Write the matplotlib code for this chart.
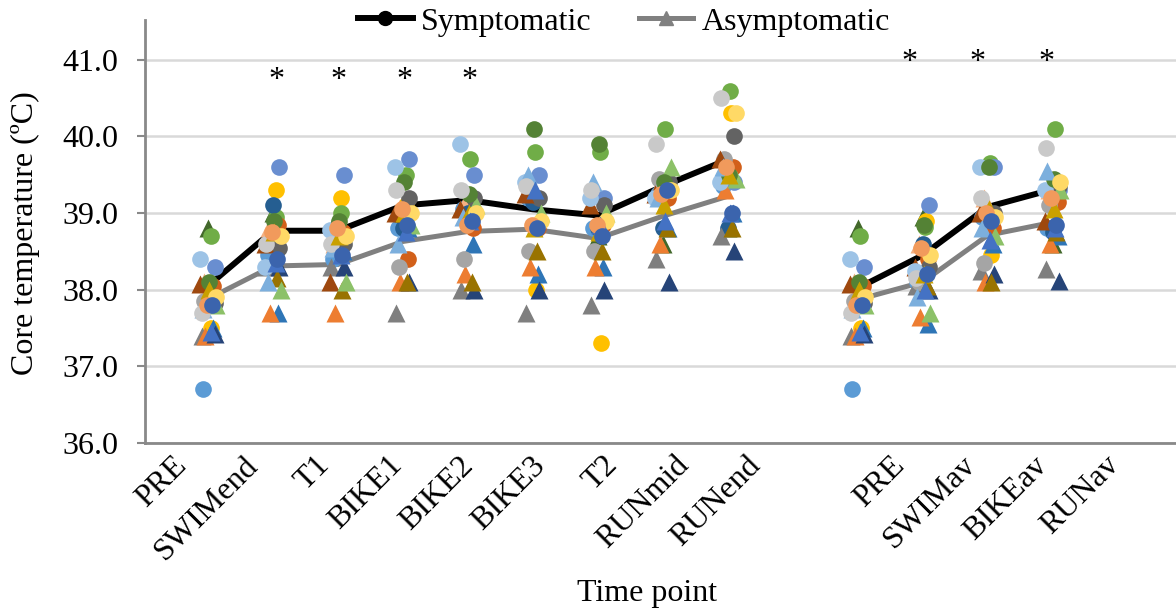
import numpy as np
import matplotlib.pyplot as plt
from matplotlib.lines import Line2D

plt.rcParams['font.family'] = ['Liberation Serif', 'DejaVu Serif']
plt.rcParams['font.size'] = 23

############################ Data ############################
tick_labels = ["PRE", "SWIMend", "T1", "BIKE1", "BIKE2", "BIKE3", "T2", "RUNmid", "RUNend",
               "PRE", "SWIMav", "BIKEav", "RUNav"]
x_pos = [0, 1, 2, 3, 4, 5, 6, 7, 8, 10, 11, 12, 13]

# group means
sym_mean = [38.05, 38.77, 38.77, 39.10, 39.17, 39.05, 38.97, 39.35, 39.70, 38.02, 38.45, 39.08, 39.31]
asym_mean = [37.88, 38.31, 38.33, 38.63, 38.76, 38.79, 38.67, 38.96, 39.22, 37.87, 38.10, 38.71, 38.88]

# individual symptomatic athletes (circles), one list per time point
sym_pre = [36.7, 37.5, 38.7, 37.8, 38.3, 38.05, 37.85, 37.83, 38.4, 38.1, 37.7, 37.9, 37.8, 37.8]
sym_swimend = [38.45, 39.3, 38.95, 39.1, 39.6, 38.85, 38.6, 38.55, 38.3, 38.9, 38.6, 38.7, 38.75, 38.4]
sym_t1 = [38.4, 39.2, 39.0, 38.85, 39.5, 38.75, 38.65, 38.6, 38.78, 38.9, 38.6, 38.7, 38.8, 38.45]
sym_bike1 = [38.8, 39.1, 39.5, 38.8, 39.7, 38.4, 38.3, 39.2, 39.6, 39.4, 39.3, 39.0, 39.05, 38.85]
sym_bike2 = [39.05, 38.95, 39.7, 39.0, 39.5, 38.8, 38.4, 39.2, 39.9, 39.25, 39.3, 39.0, 38.85, 38.9]
sym_bike3 = [39.2, 38.0, 39.8, 39.15, 39.5, 38.8, 38.5, 39.2, 39.4, 40.1, 39.35, 38.9, 38.85, 38.8]
sym_t2 = [38.8, 37.3, 39.8, 38.8, 39.2, 38.85, 38.5, 39.1, 39.2, 39.9, 39.3, 38.9, 38.85, 38.7]
sym_runmid = [39.25, 39.3, 40.1, 38.8, 39.3, 39.2, 39.45, 39.4, 39.2, 39.4, 39.9, 39.3, 39.25, 39.3]
sym_runend = [39.35, 40.3, 40.6, 38.8, 39.4, 39.6, 39.7, 40.0, 39.4, 39.5, 40.5, 40.3, 39.6, 39.0]
sym_swimav = [38.1, 38.9, 38.82, 38.6, 39.1, 38.4, 38.1, 38.3, 38.25, 38.85, 38.15, 38.45, 38.55, 38.2]
sym_bikeav = [38.95, 38.45, 39.65, 38.85, 39.6, 38.8, 38.35, 39.0, 39.6, 39.6, 39.2, 38.95, 39.0, 38.9]
sym_runav = [38.8, 39.2, 40.1, 38.75, 39.3, 39.15, 39.1, 39.35, 39.3, 39.45, 39.85, 39.4, 39.2, 38.85]

# individual asymptomatic athletes (triangles)
asym_pre = [38.8, 38.1, 37.5, 37.4, 37.4, 37.42, 37.95, 38.08, 37.8, 37.75, 38.0, 37.45]
asym_swimend = [39.0, 38.8, 37.7, 38.3, 37.7, 38.3, 38.15, 38.6, 38.0, 38.1, 38.75, 38.35]
asym_t1 = [38.75, 38.6, 38.5, 38.3, 37.7, 38.3, 38.0, 38.1, 38.1, 38.55, 38.7, 38.45]
asym_bike1 = [39.0, 39.05, 38.8, 37.7, 38.1, 38.1, 38.1, 39.0, 38.85, 38.6, 39.0, 38.75]
asym_bike2 = [39.2, 39.1, 38.6, 38.0, 38.2, 38.0, 38.1, 39.05, 39.1, 38.95, 39.0, 38.9]
asym_bike3 = [39.3, 39.45, 38.2, 37.7, 38.3, 38.0, 38.5, 39.25, 39.0, 39.5, 38.8, 39.3]
asym_t2 = [38.7, 39.3, 38.3, 37.8, 38.3, 38.0, 38.5, 39.1, 39.0, 39.4, 38.75, 38.85]
asym_runmid = [38.6, 39.35, 38.8, 38.4, 38.6, 38.1, 38.8, 39.25, 39.6, 39.2, 39.1, 38.9]
asym_runend = [38.8, 39.5, 39.0, 38.7, 39.3, 38.5, 38.8, 39.7, 39.45, 39.6, 39.5, 39.0]
asym_swimav = [38.95, 38.6, 37.55, 38.05, 37.65, 38.0, 38.05, 38.3, 37.7, 37.9, 38.2, 38.0]
asym_bikeav = [38.9, 39.2, 38.6, 38.25, 38.1, 38.2, 38.1, 39.0, 38.7, 38.8, 39.05, 38.65]
asym_runav = [38.6, 39.3, 38.7, 38.27, 38.6, 38.12, 38.75, 38.9, 39.3, 39.55, 39.05, 38.8]

sym_points = [sym_pre, sym_swimend, sym_t1, sym_bike1, sym_bike2, sym_bike3, sym_t2,
              sym_runmid, sym_runend, sym_pre, sym_swimav, sym_bikeav, sym_runav]
asym_points = [asym_pre, asym_swimend, asym_t1, asym_bike1, asym_bike2, asym_bike3, asym_t2,
               asym_runmid, asym_runend, asym_pre, asym_swimav, asym_bikeav, asym_runav]

# significance markers
star_x = [1.05, 2.0, 3.03, 4.03, 10.8, 11.85, 12.9]

############################ Styles ############################
circle_colors = ['#5B9BD5', '#FFC000', '#70AD47', '#255E91', '#698ED0', '#D2601A', '#A5A5A5',
                 '#636363', '#9DC3E6', '#548235', '#C9C9C9', '#FFD966', '#F19A5C', '#3B64AD']
tri_colors = ['#43682B', '#F4B183', '#2E75B6', '#7F7F7F', '#ED7D31', '#264478',
              '#997300', '#9E480E', '#8CC168', '#7CAFDD', '#C9A000', '#4472C4']
circle_off = [-0.08, 0.05, 0.04, 0.0, 0.1, 0.08, -0.06, 0.1, -0.12, 0.02, -0.1, 0.12, -0.02, 0.06]
tri_off = [0.0, -0.06, 0.08, -0.1, -0.04, 0.1, 0.06, -0.12, 0.12, -0.08, 0.02, 0.04]

fig = plt.figure(figsize=(11.76, 6.11), dpi=100)
ax = fig.add_axes([145 / 1176, 1 - 443 / 611, 1 - 145 / 1176, 423 / 611])

# mean lines, drawn per block so the gap stays open
ax.plot(x_pos[:9], sym_mean[:9], color='black', lw=4.3, zorder=2, solid_capstyle='butt')
ax.plot(x_pos[9:], sym_mean[9:], color='black', lw=4.3, zorder=2, solid_capstyle='butt')
ax.plot(x_pos[:9], asym_mean[:9], color='#808080', lw=3.6, zorder=2, solid_capstyle='butt')
ax.plot(x_pos[9:], asym_mean[9:], color='#808080', lw=3.6, zorder=2, solid_capstyle='butt')

# individual points
for i in range(max(len(circle_colors), len(tri_colors))):
    if i < len(circle_colors):
        xs = np.array(x_pos) + circle_off[i]
        ys = [p[i] for p in sym_points]
        ax.plot(xs, ys, 'o', ms=12, color=circle_colors[i], mec='none', zorder=3, lw=0)
    if i < len(tri_colors):
        xs = np.array(x_pos) + tri_off[i]
        ys = [p[i] for p in asym_points]
        ax.plot(xs, ys, '^', ms=13, color=tri_colors[i], mec='none', zorder=3, lw=0)

for k, sx in enumerate(star_x):
    sy = 40.73 if sx < 9 else 40.96
    ax.text(sx, sy, '*', ha='center', va='center', fontsize=23, zorder=4)

############################ Axes ############################
ax.set_xlim(-0.97, 14.9)
ax.set_ylim(36, 41.52)
ax.set_yticks([36, 37, 38, 39, 40, 41])
ax.set_yticklabels(['36.0', '37.0', '38.0', '39.0', '40.0', '41.0'])
ax.grid(axis='y', color='#D9D9D9', lw=1.8, zorder=0)
ax.set_axisbelow(True)

# category labels sit on their own slightly wider spacing
slots = [0, 1, 2, 3, 4, 5, 6, 7, 8, 10, 11, 12, 13]
label_x = [-0.40 + 1.105 * s for s in slots]
ax.set_xticks(label_x)
ax.set_xticklabels(tick_labels)
plt.setp(ax.get_xticklabels(), rotation=45, ha='right', va='center', rotation_mode='anchor')
ax.tick_params(axis='x', length=0, pad=13)
ax.tick_params(axis='y', length=6, width=1.5, color='#898989', pad=13)

for side in ['top', 'right']:
    ax.spines[side].set_visible(False)
for side in ['left', 'bottom']:
    ax.spines[side].set_color('#898989')
    ax.spines[side].set_linewidth(2)

fig.text(25 / 1176, 1 - 233 / 611, 'Core temperature (ºC)', rotation=90, ha='center', va='center')
fig.text(647 / 1176, 1 - 594 / 611, 'Time point', ha='center', va='center')

handles = [Line2D([], [], color='black', lw=4.3, marker='o', ms=10),
           Line2D([], [], color='#808080', lw=3.6, marker='^', ms=10)]
fig.legend(handles, ['Symptomatic', 'Asymptomatic'], loc='center', ncol=2, frameon=False,
           bbox_to_anchor=(624 / 1176, 1 - 22 / 611), handlelength=1.7, handletextpad=0.25,
           columnspacing=1.5, borderpad=0, borderaxespad=0)

fig.savefig('out.png', dpi=100)
